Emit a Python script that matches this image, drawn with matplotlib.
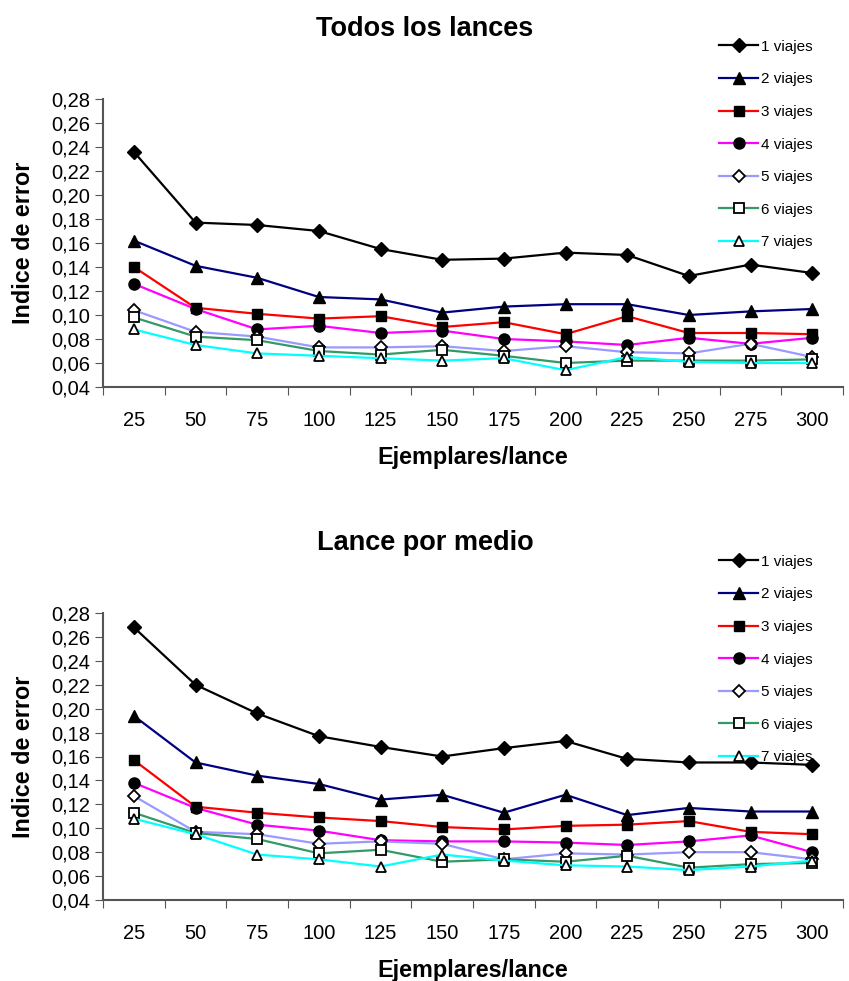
import matplotlib
matplotlib.use("Agg")
import matplotlib.pyplot as plt
import numpy as np

plt.rcParams['font.family'] = ['Liberation Sans', 'DejaVu Sans']

#-----
#Data
#-----

ejemplares = [25, 50, 75, 100, 125, 150, 175, 200, 225, 250, 275, 300]
labels = ["1 viajes", "2 viajes", "3 viajes", "4 viajes", "5 viajes", "6 viajes", "7 viajes"]
yticks = [0.04, 0.06, 0.08, 0.10, 0.12, 0.14, 0.16, 0.18, 0.20, 0.22, 0.24, 0.26, 0.28]

#Todos los lances
todos_1 = [0.236, 0.177, 0.175, 0.170, 0.155, 0.146, 0.147, 0.152, 0.150, 0.1325, 0.142, 0.135]
todos_2 = [0.162, 0.141, 0.131, 0.115, 0.113, 0.102, 0.107, 0.109, 0.109, 0.100, 0.103, 0.105]
todos_3 = [0.140, 0.106, 0.101, 0.097, 0.099, 0.090, 0.094, 0.084, 0.099, 0.085, 0.085, 0.084]
todos_4 = [0.126, 0.105, 0.088, 0.091, 0.085, 0.087, 0.080, 0.078, 0.075, 0.081, 0.076, 0.081]
todos_5 = [0.104, 0.086, 0.082, 0.073, 0.073, 0.074, 0.070, 0.074, 0.069, 0.068, 0.076, 0.065]
todos_6 = [0.098, 0.082, 0.079, 0.070, 0.067, 0.071, 0.066, 0.060, 0.062, 0.062, 0.062, 0.063]
todos_7 = [0.088, 0.075, 0.068, 0.066, 0.064, 0.062, 0.064, 0.054, 0.065, 0.061, 0.060, 0.060]

#Lance por medio
medio_1 = [0.268, 0.220, 0.196, 0.177, 0.168, 0.160, 0.167, 0.173, 0.158, 0.155, 0.155, 0.153]
medio_2 = [0.194, 0.155, 0.144, 0.137, 0.124, 0.128, 0.113, 0.128, 0.111, 0.117, 0.114, 0.114]
medio_3 = [0.157, 0.118, 0.113, 0.109, 0.106, 0.101, 0.099, 0.102, 0.103, 0.106, 0.097, 0.095]
medio_4 = [0.138, 0.117, 0.103, 0.098, 0.090, 0.089, 0.089, 0.088, 0.086, 0.089, 0.094, 0.080]
medio_5 = [0.127, 0.097, 0.095, 0.087, 0.089, 0.087, 0.074, 0.079, 0.078, 0.080, 0.080, 0.074]
medio_6 = [0.113, 0.096, 0.091, 0.079, 0.082, 0.072, 0.074, 0.072, 0.077, 0.067, 0.070, 0.071]
medio_7 = [0.108, 0.095, 0.078, 0.074, 0.068, 0.078, 0.073, 0.069, 0.068, 0.065, 0.068, 0.073]

todos = [todos_1, todos_2, todos_3, todos_4, todos_5, todos_6, todos_7]
medio = [medio_1, medio_2, medio_3, medio_4, medio_5, medio_6, medio_7]

colors = ["black", "#000080", "#FF0000", "#FF00FF", "#9999FF", "#339966", "#00FFFF"]
markers = ["D", "^", "s", "o", "D", "s", "^"]
filled = [True, True, True, True, False, False, False]
msizes = [7, 8, 7, 8, 6, 7, 7]

#-------
#Figure
#-------

fig = plt.figure(figsize=(8.49, 9.81), dpi=100)

W, H = 849, 981


def make_axes(top_px, height_px):
    return fig.add_axes([103 / W, 1 - (top_px + height_px) / H, 740 / W, height_px / H])


def draw_chart(ax, series, title, title_y, legend_y):
    x = np.arange(len(ejemplares))
    for vals, c, m, f, ms, lab in zip(series, colors, markers, filled, msizes, labels):
        ax.plot(x, vals, color=c, lw=1.6, marker=m, markersize=ms,
                markerfacecolor="black" if f else "white",
                markeredgecolor="black", markeredgewidth=1.3 if not f else 1,
                label=lab)

    ax.set_xlim(-0.5, len(ejemplares) - 0.5)
    ax.set_ylim(0.04, 0.28)

    #Ticks between categories, labels centred
    ax.set_xticks(np.arange(-0.5, len(ejemplares)), minor=False)
    ax.set_xticklabels([])
    ax.set_xticks(x, minor=True)
    ax.set_xticklabels([str(e) for e in ejemplares], minor=True)
    ax.tick_params(axis="x", which="major", length=6, color="#555555")
    ax.tick_params(axis="x", which="minor", length=0, pad=17, labelsize=14.5)

    ax.set_yticks(yticks)
    ax.set_yticklabels([("%.2f" % t).replace(".", ",") for t in yticks])
    ax.tick_params(axis="y", length=6, pad=3, labelsize=14.5, color="#555555")

    for s in ["top", "right"]:
        ax.spines[s].set_visible(False)
    for s in ["left", "bottom"]:
        ax.spines[s].set_color("#555555")
        ax.spines[s].set_linewidth(1.5)

    ax.set_xlabel("Ejemplares/lance", fontsize=16.8, fontweight="bold", labelpad=11.5)
    ax.set_ylabel("Indice de error", fontsize=16.8, fontweight="bold", labelpad=12)

    fig.text(425 / W, 1 - title_y / H, title, fontsize=19.5, fontweight="bold",
             ha="center", va="center")

    fig.legend(*ax.get_legend_handles_labels(), loc="upper left",
               bbox_to_anchor=(711 / W, 1 - legend_y / H), frameon=False,
               fontsize=11, handlelength=2.6, handletextpad=0.2,
               labelspacing=1.22, borderpad=0)


ax1 = make_axes(99, 288)
draw_chart(ax1, todos, "Todos los lances", 29, 32)

ax2 = make_axes(613, 287)
draw_chart(ax2, medio, "Lance por medio", 543, 547)

fig.savefig("out.png", dpi=100)
